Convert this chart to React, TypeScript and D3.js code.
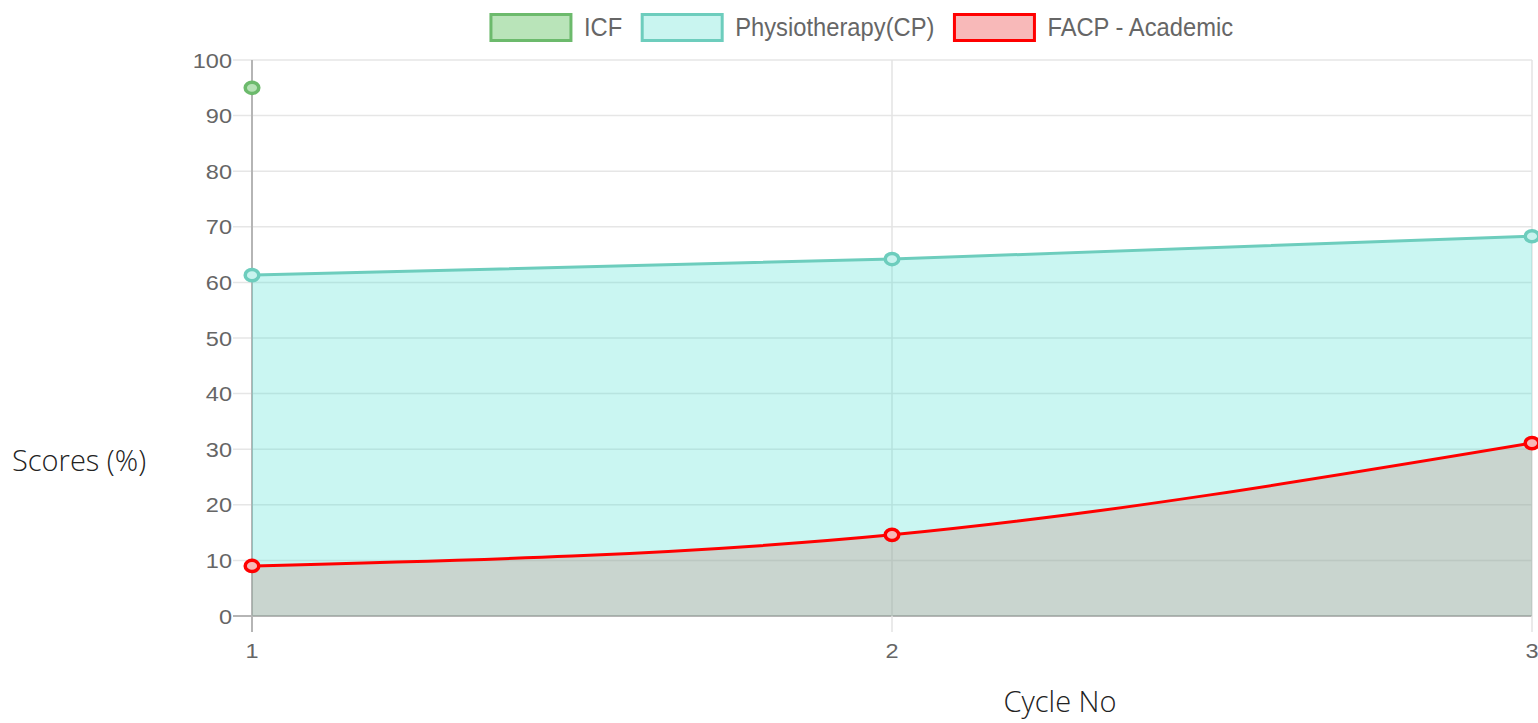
import { useEffect, useRef } from "react";
import * as d3 from "d3";

const cycles = [1, 2, 3];
const icf = [95, null, null];
const physio = [61.3, 64.2, 68.3];
const facp = [9.0, 14.6, 31.1];
const yTicks = [0, 10, 20, 30, 40, 50, 60, 70, 80, 90, 100];

const series = [
  { name: "ICF", values: icf, stroke: "#6cba6c", fill: "rgba(0,160,0,0.28)", legendFill: "#b9e4b9", point: "#b6e2b6" },
  { name: "Physiotherapy(CP)", values: physio, stroke: "#6dcdbd", fill: "rgba(64,224,208,0.28)", legendFill: "#c9f5f0", point: "#c8f3ee" },
  { name: "FACP - Academic", values: facp, stroke: "#ff0000", fill: "rgba(198,136,125,0.3)", legendFill: "#f8b9b9", point: "#f6b8b8" },
];

const W = 1538;
const H = 723;

const App = () => {
  const svgRef = useRef<SVGSVGElement>(null);

  useEffect(() => {
    const svg = d3.select(svgRef.current);
    svg.selectAll("*").remove();

    const left = 252, right = 1532, top = 60, bottom = 616;

    const x = d3.scaleLinear().domain([1, 3]).range([left, right]);
    const y = d3.scaleLinear().domain([0, 100]).range([bottom, top]);

    // grid
    const grid = svg.append("g");
    yTicks.forEach((t) => {
      grid.append("line")
        .attr("x1", left - 19).attr("x2", right)
        .attr("y1", y(t)).attr("y2", y(t))
        .attr("stroke", t === 0 ? "#b5b5b5" : "#e6e6e6")
        .attr("stroke-width", t === 0 ? 2 : 1.5);
    });
    cycles.forEach((c) => {
      grid.append("line")
        .attr("x1", x(c)).attr("x2", x(c))
        .attr("y1", top).attr("y2", bottom + 16)
        .attr("stroke", c === 1 ? "#b5b5b5" : "#e3e3e3")
        .attr("stroke-width", c === 1 ? 2 : 1.5);
    });

    // areas (filled to origin)
    const withData = series.filter((s) => s.values.filter((v) => v != null).length > 1);
    withData.forEach((s) => {
      const pts = cycles.map((c, i) => [c, s.values[i]] as [number, number]);
      const area = d3.area<[number, number]>()
        .x((d) => x(d[0]))
        .y0(y(0))
        .y1((d) => y(d[1]))
        .curve(d3.curveMonotoneX);
      svg.append("path").attr("d", area(pts)!).attr("fill", s.fill);
    });
    withData.forEach((s) => {
      const pts = cycles.map((c, i) => [c, s.values[i]] as [number, number]);
      const line = d3.line<[number, number]>()
        .x((d) => x(d[0]))
        .y((d) => y(d[1]))
        .curve(d3.curveMonotoneX);
      svg.append("path").attr("d", line(pts)!)
        .attr("fill", "none").attr("stroke", s.stroke).attr("stroke-width", 3);
    });

    // points
    series.forEach((s) => {
      cycles.forEach((c, i) => {
        const v = s.values[i];
        if (v == null) return;
        svg.append("ellipse")
          .attr("cx", x(c)).attr("cy", y(v))
          .attr("rx", 6.8).attr("ry", 5.6)
          .attr("fill", s.point)
          .attr("stroke", s.stroke).attr("stroke-width", 3.5);
      });
    });

    const txt = (g: any, tx: number, ty: number, s: string, anchor: string, size: number, sx: number) =>
      g.append("text")
        .attr("transform", `translate(${tx},${ty}) scale(${sx},1)`)
        .attr("text-anchor", anchor)
        .attr("font-family", "'Liberation Sans', Arial, sans-serif")
        .attr("font-size", size)
        .attr("fill", "#666")
        .text(s);

    // y tick labels
    yTicks.forEach((t) => txt(svg, left - 20, y(t) + 7.5, String(t), "end", 21, 1.12));
    // x tick labels
    cycles.forEach((c) => txt(svg, x(c), 658, String(c), "middle", 21, 1.12));

    // axis titles
    svg.append("text")
      .attr("x", 12).attr("y", 471)
      .attr("font-family", "'Open Sans', sans-serif")
      .attr("font-weight", 300)
      .attr("font-size", 29)
      .attr("fill", "#222")
      .text("Scores (%)");
    svg.append("text")
      .attr("x", 1060).attr("y", 712)
      .attr("text-anchor", "middle")
      .attr("font-family", "'Open Sans', sans-serif")
      .attr("font-weight", 300)
      .attr("font-size", 29)
      .attr("fill", "#222")
      .text("Cycle No");

    // legend
    const lg = svg.append("g");
    const SX = 0.95;
    const boxW = 80, boxH = 26, gapText = 13, gapItem = 20;
    const items = series.map((s) => {
      const t = txt(lg, 0, 36, s.name, "start", 25, SX);
      const w = (t.node() as SVGTextElement).getComputedTextLength() * SX;
      return { s, t, w };
    });
    const total = d3.sum(items, (d) => boxW + gapText + d.w) + gapItem * (items.length - 1);
    let cx = 862 - total / 2;
    items.forEach(({ s, t, w }) => {
      lg.append("rect")
        .attr("x", cx).attr("y", 14.5).attr("width", boxW).attr("height", boxH)
        .attr("fill", s.legendFill).attr("stroke", s.stroke).attr("stroke-width", 3);
      t.attr("transform", `translate(${cx + boxW + gapText},36) scale(${SX},1)`);
      cx += boxW + gapText + w + gapItem;
    });
  }, []);

  return (
    <svg
      ref={svgRef}
      width={W}
      height={H}
      style={{ position: "absolute", left: 0, top: 0, background: "#fff" }}
    ></svg>
  );
};

export default App;
